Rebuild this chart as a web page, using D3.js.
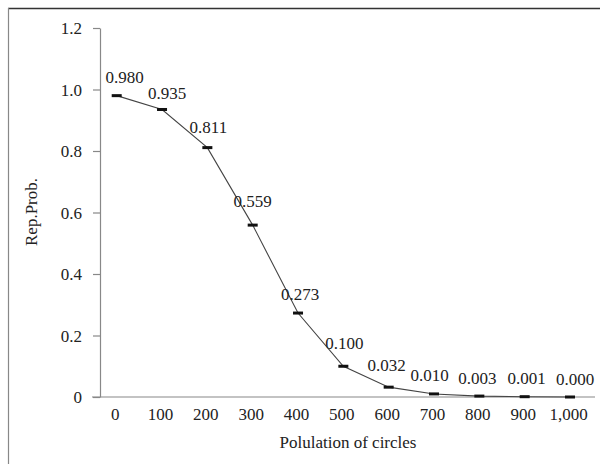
<!DOCTYPE html>
<html><head><meta charset="utf-8">
<script src="https://cdn.jsdelivr.net/npm/d3@7"></script>
<style>body{margin:0;background:#fff}svg{display:block}
svg text{font-family:"Liberation Serif","DejaVu Serif",serif;font-size:17px;fill:#222}</style>
</head><body>
<svg id="c" width="600" height="464"></svg>
<script>
const categories = ["0","100","200","300","400","500","600","700","800","900","1,000"];
const values = [0.980,0.935,0.811,0.559,0.273,0.100,0.032,0.010,0.003,0.001,0.000];
const valueLabels = ["0.980","0.935","0.811","0.559","0.273","0.100","0.032","0.010","0.003","0.001","0.000"];
const yTicks = [0,0.2,0.4,0.6,0.8,1.0,1.2];
// label nudges (layout only)
const labelDx = [8,5,1,0,2,1,-2,-4.5,-2,2,5];
const labelDy = [-12.5,-10,-15,-18.5,-13,-17.5,-16.5,-12.5,-12.5,-12.5,-12.5];

const svg = d3.select("#c");

// frame
svg.append("line").attr("x1",8).attr("x2",600).attr("y1",8.5).attr("y2",8.5).attr("stroke","#333").attr("stroke-width",1.5);
svg.append("line").attr("x1",8.5).attr("x2",8.5).attr("y1",8).attr("y2",464).attr("stroke","#888").attr("stroke-width",1.2);

const x = d3.scalePoint().domain(categories).range([116.7,570]);
const y = d3.scaleLinear().domain([0,1.2]).range([397,28]);

// y axis
const ya = svg.append("g").attr("transform","translate(100,0)")
  .call(d3.axisLeft(y).tickValues(yTicks).tickSize(7).tickSizeOuter(0).tickPadding(11)
    .tickFormat(d => d===0 ? "0" : d3.format(".1f")(d)));
ya.attr("font-family",null).attr("font-size",null);
ya.selectAll("path,line").attr("stroke","#888").attr("stroke-width",1.2);
ya.selectAll("text").attr("fill",null).attr("dy","0.34em");

// x axis
svg.append("line").attr("x1",92).attr("x2",595).attr("y1",y(0)).attr("y2",y(0)).attr("stroke","#888").attr("stroke-width",1.2);
const xa = svg.append("g").attr("transform",`translate(0,${y(0)})`)
  .call(d3.axisBottom(x).tickSize(0).tickPadding(0));
xa.attr("font-family",null).attr("font-size",null);
xa.select(".domain").remove();
xa.selectAll("text").attr("fill",null).attr("y",23).attr("dy",0).attr("dx",-2);

// line
const pts = categories.map((c,i)=>({c, v:values[i], i}));
svg.append("path").datum(pts)
  .attr("d", d3.line().x(d=>x(d.c)).y(d=>y(d.v)))
  .attr("fill","none").attr("stroke","#444").attr("stroke-width",1.1);

// markers
svg.selectAll(".m").data(pts).enter().append("rect")
  .attr("x",d=>x(d.c)-5).attr("y",d=>y(d.v)-1.5).attr("width",10).attr("height",3).attr("fill","#111");

// value labels
svg.selectAll(".lbl").data(pts).enter().append("text")
  .attr("x",d=>x(d.c)+labelDx[d.i]).attr("y",d=>y(d.v)+labelDy[d.i])
  .attr("text-anchor","middle")
  .text(d=>valueLabels[d.i]);

// titles
svg.append("text").attr("x",348).attr("y",448).attr("text-anchor","middle").text("Polulation of circles");
svg.append("text").attr("transform","translate(37,212) rotate(-90)").attr("text-anchor","middle").text("Rep.Prob.");
</script>
</body></html>
